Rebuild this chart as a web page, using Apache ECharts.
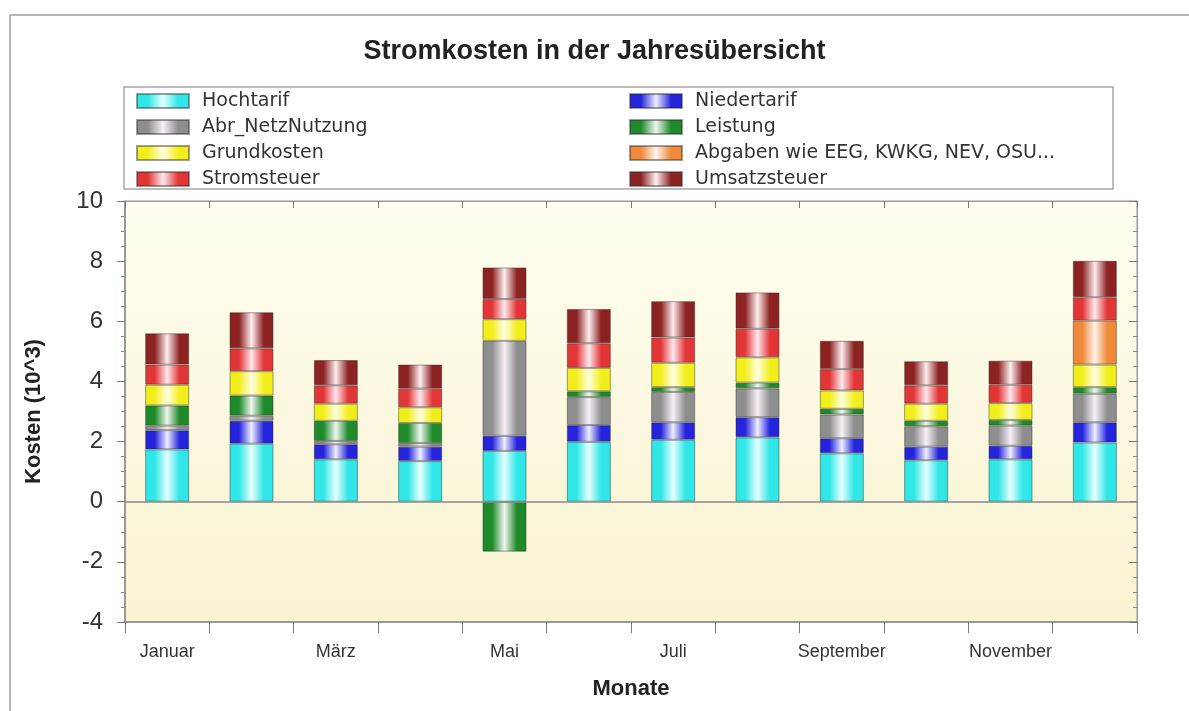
<!DOCTYPE html>
<html>
<head>
<meta charset="utf-8">
<script src="https://cdn.jsdelivr.net/npm/echarts@6/dist/echarts.min.js"></script>
<style>html,body{margin:0;padding:0;background:#fff;}#chart{width:1189px;height:711px;}</style>
</head>
<body>
<div id="chart"></div>
<script>
var months = ['Januar','Februar','März','April','Mai','Juni','Juli','August','September','Oktober','November','Dezember'];
var hochtarif    = [1.74,1.93,1.41,1.35,1.69,1.99,2.06,2.14,1.61,1.38,1.41,1.97];
var niedertarif  = [0.64,0.76,0.50,0.48,0.50,0.56,0.58,0.67,0.50,0.45,0.45,0.67];
var abrNetz      = [0.15,0.17,0.11,0.12,3.16,0.93,1.01,0.96,0.79,0.68,0.67,0.95];
var leistung     = [0.67,0.67,0.67,0.67,-1.66,0.19,0.16,0.19,0.19,0.18,0.19,0.22];
var grundkosten  = [0.69,0.81,0.57,0.52,0.72,0.78,0.81,0.84,0.61,0.57,0.56,0.75];
var abgaben      = [null,null,null,null,null,null,null,null,null,null,null,1.46];
var stromsteuer  = [0.67,0.76,0.61,0.62,0.67,0.82,0.84,0.95,0.71,0.61,0.61,0.78];
var umsatzsteuer = [1.04,1.20,0.84,0.80,1.05,1.14,1.21,1.21,0.94,0.80,0.80,1.21];
var yTicks = {min: -4, max: 10, interval: 2};

var seriesDefs = [
  {name: 'Hochtarif', data: hochtarif, base: '#30e6e6', light: '#e6ffff'},
  {name: 'Niedertarif', data: niedertarif, base: '#2424dc', light: '#efeeff'},
  {name: 'Abr_NetzNutzung', data: abrNetz, base: '#8e8e8e', light: '#f8f0f8'},
  {name: 'Leistung', data: leistung, base: '#1e8a2a', light: '#f0f6f0'},
  {name: 'Grundkosten', data: grundkosten, base: '#f2ee1c', light: '#ffffe2'},
  {name: 'Abgaben wie EEG, KWKG, NEV, OSU...', data: abgaben, base: '#ee8a3a', light: '#fff4ec'},
  {name: 'Stromsteuer', data: stromsteuer, base: '#e23636', light: '#ffe8f0'},
  {name: 'Umsatzsteuer', data: umsatzsteuer, base: '#8c2222', light: '#ffeef0'}
];

function grad(base, light) {
  return {type: 'linear', x: 0, y: 0, x2: 1, y2: 0, colorStops: [
    {offset: 0, color: base}, {offset: 0.22, color: base}, {offset: 0.5, color: light},
    {offset: 0.78, color: base}, {offset: 1, color: base}]};
}

var series = seriesDefs.map(function (d, i) {
  var s = {
    name: d.name, type: 'bar', stack: 'total', data: d.data,
    barWidth: 44,
    itemStyle: {color: grad(d.base, d.light), borderColor: 'rgba(40,40,40,0.45)', borderWidth: 1},
    emphasis: {disabled: true}
  };
  if (i === 0) {
    s.markLine = {silent: true, symbol: ['none', 'none'], label: {show: false},
      lineStyle: {color: '#8a8a8a', type: 'solid', width: 1.5}, data: [{yAxis: 0}]};
  }
  return s;
});

var legendText = {fontFamily: 'DejaVu Sans', fontSize: 19, color: '#333', lineHeight: 20, padding: [0, 0, 0, 8]};
var chart = echarts.init(document.getElementById('chart'), null, {renderer: 'canvas'});
chart.setOption({
  animation: false,
  backgroundColor: '#ffffff',
  title: {text: 'Stromkosten in der Jahresübersicht', left: 'center', top: 33,
    textStyle: {fontFamily: 'Liberation Sans', fontSize: 27, fontWeight: 'bold', color: '#222'}},
  graphic: [
    {type: 'line', shape: {x1: 10, y1: 15, x2: 1189, y2: 15}, style: {stroke: '#b4b4b4', lineWidth: 2}, silent: true},
    {type: 'line', shape: {x1: 10, y1: 15, x2: 10, y2: 711}, style: {stroke: '#b4b4b4', lineWidth: 2}, silent: true},
    {type: 'rect', shape: {x: 124, y: 87, width: 989, height: 102}, style: {fill: 'none', stroke: '#a8a8a8', lineWidth: 1.5}, silent: true}
  ],
  legend: [
    {orient: 'vertical', left: 131, top: 86, itemWidth: 52, itemHeight: 14, itemGap: 6,
      icon: 'rect', selectedMode: false, textStyle: legendText,
      data: ['Hochtarif', 'Abr_NetzNutzung', 'Grundkosten', 'Stromsteuer']},
    {orient: 'vertical', left: 624, top: 86, itemWidth: 52, itemHeight: 14, itemGap: 6,
      icon: 'rect', selectedMode: false, textStyle: legendText,
      data: ['Niedertarif', 'Leistung', 'Abgaben wie EEG, KWKG, NEV, OSU...', 'Umsatzsteuer']}
  ],
  grid: {left: 125, right: 52, top: 201, bottom: 89, show: true, borderColor: '#999', borderWidth: 1,
    backgroundColor: {type: 'linear', x: 0, y: 0, x2: 0, y2: 1, colorStops: [
      {offset: 0, color: '#fffdf0'}, {offset: 1, color: '#f8f3d0'}]}},
  xAxis: [
    {type: 'category', data: months, position: 'bottom',
      name: 'Monate', nameLocation: 'middle', nameGap: 56,
      nameTextStyle: {fontFamily: 'Liberation Sans', fontSize: 22, fontWeight: 'bold', color: '#222'},
      axisLine: {onZero: false, lineStyle: {color: '#888', width: 1.5}},
      axisTick: {show: true, interval: 0, length: 11, lineStyle: {color: '#777'}},
      axisLabel: {interval: 1, margin: 21, fontFamily: 'Liberation Sans', fontSize: 18, color: '#333'}},
    {type: 'category', data: months, position: 'top',
      axisLine: {onZero: false, lineStyle: {color: '#999'}},
      axisTick: {show: true, interval: 0, inside: true, length: 7, lineStyle: {color: '#777'}},
      axisLabel: {show: false}}
  ],
  yAxis: [
    {type: 'value', min: yTicks.min, max: yTicks.max, interval: yTicks.interval, position: 'left',
      name: 'Kosten (10^3)', nameLocation: 'middle', nameGap: 80,
      nameTextStyle: {fontFamily: 'Liberation Sans', fontSize: 22, fontWeight: 'bold', color: '#222'},
      axisLine: {show: true, lineStyle: {color: '#888', width: 1.5}},
      axisTick: {show: true, length: 8, lineStyle: {color: '#777'}},
      minorTick: {show: true, splitNumber: 4, length: 4, lineStyle: {color: '#888'}},
      splitLine: {show: false},
      axisLabel: {margin: 22, fontFamily: 'Liberation Sans', fontSize: 24, color: '#333'}},
    {type: 'value', min: yTicks.min, max: yTicks.max, interval: yTicks.interval, position: 'right',
      axisLine: {show: true, lineStyle: {color: '#999'}},
      axisTick: {show: true, inside: true, length: 8, lineStyle: {color: '#777'}},
      minorTick: {show: true, splitNumber: 4, length: 4, lineStyle: {color: '#888'}},
      splitLine: {show: false},
      axisLabel: {show: false}}
  ],
  series: series
});
</script>
</body>
</html>
